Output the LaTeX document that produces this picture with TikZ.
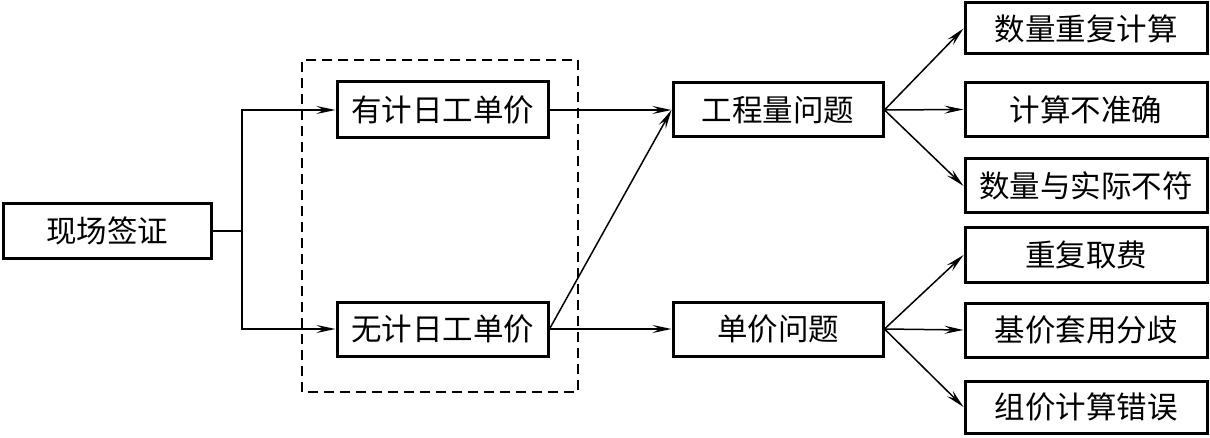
\documentclass[tikz,border=0pt]{standalone}
\usepackage{fontspec}
\setmainfont{Noto Sans CJK SC}
\usetikzlibrary{arrows.meta}
\begin{document}
\begin{tikzpicture}[x=1pt,y=1pt,
  box/.style={draw, line width=3pt, inner sep=0pt, minimum height=54pt, font=\fontsize{30.5}{32}\selectfont},
  conn/.style={line width=1.5pt},
  arr/.style={conn, -{Stealth[length=19pt,width=8pt,inset=7pt]}},
  grp/.style={draw, line width=1.3pt, dash pattern=on 10pt off 6pt}]
\useasboundingbox (0,0) rectangle (1210,437);
\node[box, minimum width=208pt] (sc) at (107,206) {现场签证};
\node[box, minimum width=211pt, minimum height=56pt] (a1) at (442.5,327) {有计日工单价};
\node[box, minimum width=211pt] (a2) at (442.5,108) {无计日工单价};
\node[box, minimum width=210pt] (b1) at (778,327) {工程量问题};
\node[box, minimum width=210pt] (b2) at (778,108) {单价问题};
\node[box, minimum width=242pt, minimum height=51pt] (c1) at (1086,408.5) {数量重复计算};
\node[box, minimum width=242pt] (c2) at (1086,327.5) {计算不准确};
\node[box, minimum width=242pt] (c3) at (1086,251) {数量与实际不符};
\node[box, minimum width=242pt] (d1) at (1086,182) {重复取费};
\node[box, minimum width=242pt] (d2) at (1086,107) {基价套用分歧};
\node[box, minimum width=242pt, minimum height=52pt] (d3) at (1086,30) {组价计算错误};
\draw[grp] (302,45) rectangle (578,377);
\coordinate (j) at (242,206);
\draw[conn] (sc.east) -- (j);
\draw[arr] (j) |- (a1.west);
\draw[arr] (j) |- (a2.west);
\draw[arr] (a1.east) -- (b1.west);
\draw[arr] (a2.east) -- (b1.west);
\draw[arr] (a2.east) -- (b2.west);
\draw[arr] (b1.east) -- (c1.west);
\draw[arr] (b1.east) -- (c2.west);
\draw[arr] (b1.east) -- (c3.west);
\draw[arr] (b2.east) -- (d1.west);
\draw[arr] (b2.east) -- (d2.west);
\draw[arr] (b2.east) -- (d3.west);
\end{tikzpicture}
\end{document}
